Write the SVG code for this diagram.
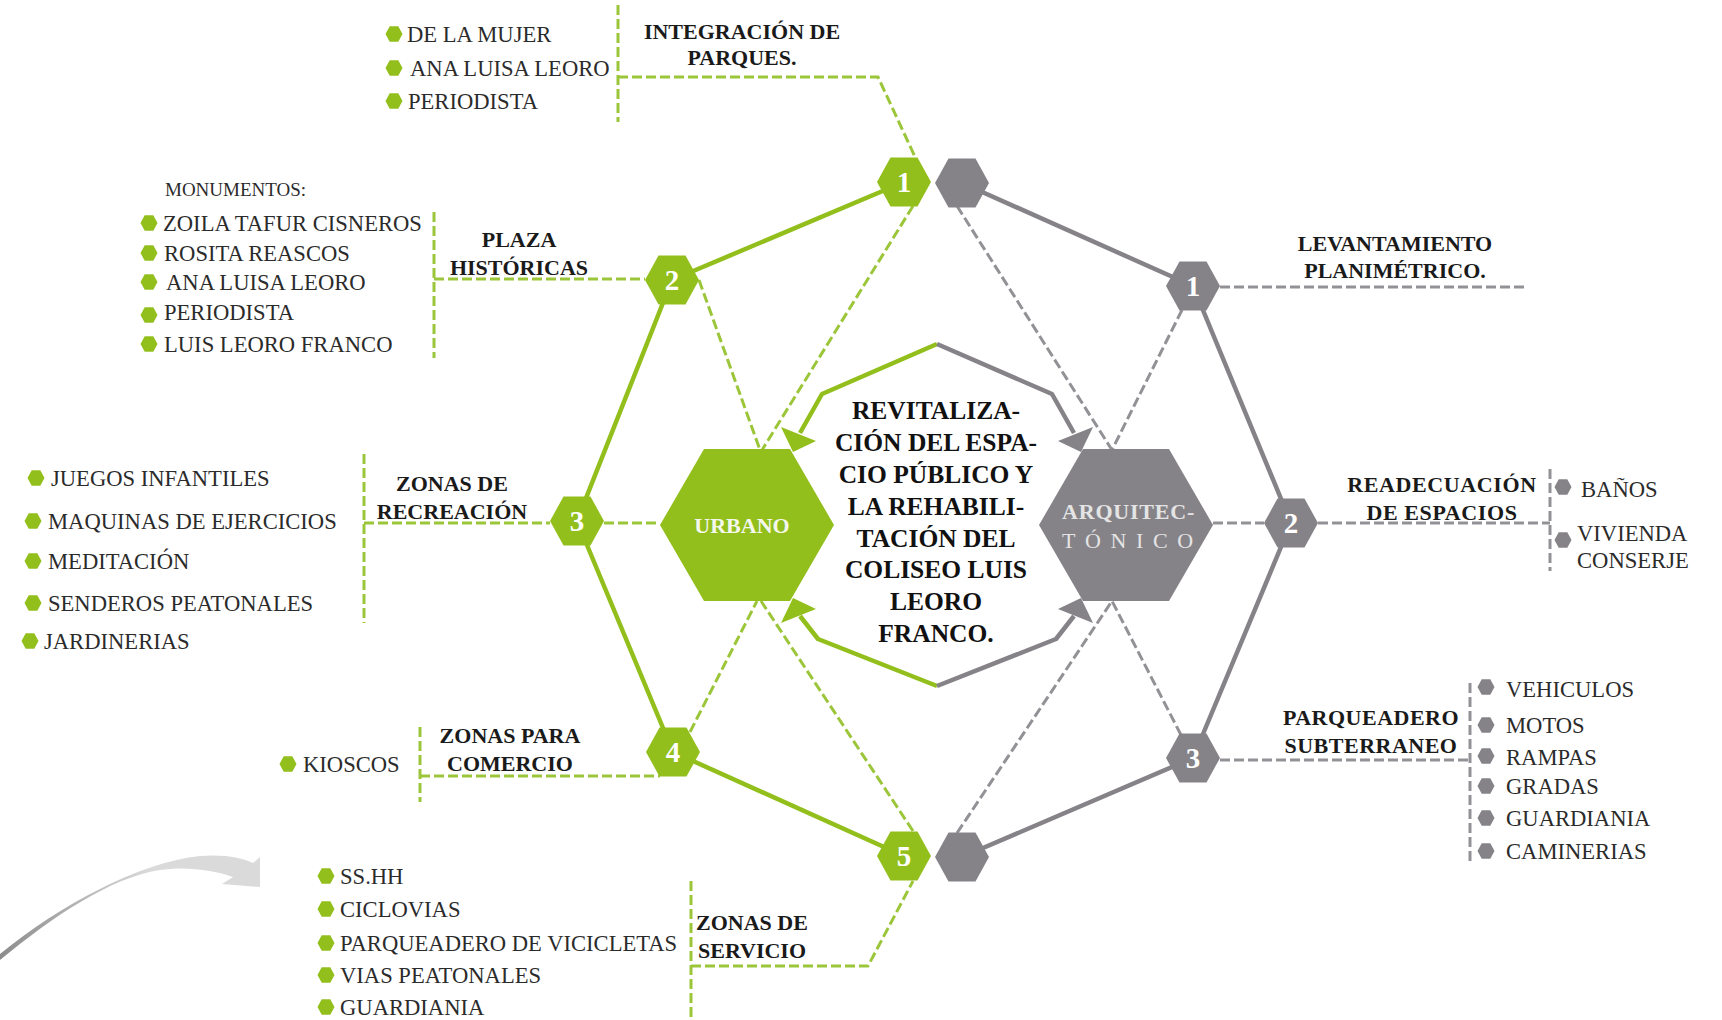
<svg xmlns="http://www.w3.org/2000/svg" width="1722" height="1020" viewBox="0 0 1722 1020">
<defs>
  <path id="sh" d="M-27,0 L-13.5,-24.5 L13.5,-24.5 L27,0 L13.5,24.5 L-13.5,24.5 Z"/>
  <path id="bh" d="M-87,0 L-43,-76 L43,-76 L87,0 L43,76 L-43,76 Z"/>
  <path id="bu" d="M-8.5,0 L-4.3,-7.8 L4.3,-7.8 L8.5,0 L4.3,7.8 L-4.3,7.8 Z"/>
  <linearGradient id="tail" gradientUnits="userSpaceOnUse" x1="0" y1="0" x2="150" y2="0">
    <stop offset="0" stop-color="#8c8c8c"/>
    <stop offset="1" stop-color="#dadada"/>
  </linearGradient>
</defs>
<style>
  .g{fill:#93bf1c}
  .k{fill:#858388}
  .sg{stroke:#93bf1c;stroke-width:4.5;fill:none;stroke-linejoin:round}
  .sk{stroke:#858388;stroke-width:4.5;fill:none;stroke-linejoin:round}
  .dg{stroke:#9cc63a;stroke-width:3;stroke-dasharray:10 4;fill:none}
  .dk{stroke:#939196;stroke-width:3;stroke-dasharray:10 4;fill:none}
  .num{font-family:"Liberation Serif","Times New Roman",serif;font-weight:bold;font-size:29px;fill:#ffffff;text-anchor:middle}
  .hd{font-family:"Liberation Serif","Times New Roman",serif;font-weight:bold;font-size:22px;fill:#1a1a1a;text-anchor:middle}
  .it{font-family:"Liberation Serif","Times New Roman",serif;font-size:22.6px;fill:#2b2b2b}
  .ct{font-family:"Liberation Serif","Times New Roman",serif;font-weight:bold;font-size:25.5px;fill:#111111;text-anchor:middle}
</style>

<!-- decorative curved arrow -->
<path d="M0,954 C60,905 140,862 200,856 C225,854 242,858 253,863 L260,857 L260,887 L222,884 L233,877 C215,870 185,866 160,870 C110,878 55,915 0,960 Z" fill="url(#tail)"/>

<g id="connectors">
  <!-- solid green ring -->
  <polyline class="sg" points="904,182 672,280 577,521 673,752 904,856"/>
  <!-- solid gray ring -->
  <polyline class="sk" points="962,183 1193,286 1291,523 1193,758 962,857"/>
  <!-- central frame -->
  <polyline class="sg" points="937,344 822,394 800,433"/>
  <polygon class="g" points="781,427 816,441 793,452"/>
  <polyline class="sg" points="937,686 818,639 800,616"/>
  <polygon class="g" points="781,623 816,609 793,598"/>
  <polyline class="sk" points="937,344 1052,394 1074,433"/>
  <polygon class="k" points="1093,427 1058,441 1081,452"/>
  <polyline class="sk" points="937,686 1056,639 1074,616"/>
  <polygon class="k" points="1093,623 1058,609 1081,598"/>
  <!-- green dashed to URBANO -->
  <line class="dg" x1="913" y1="206" x2="762" y2="450"/>
  <line class="dg" x1="699" y1="280" x2="760" y2="450"/>
  <line class="dg" x1="604" y1="523" x2="660" y2="523"/>
  <line class="dg" x1="690" y1="732" x2="757" y2="601"/>
  <line class="dg" x1="913" y1="831" x2="761" y2="601"/>
  <!-- gray dashed to ARQUITECTONICO -->
  <line class="dk" x1="957" y1="206" x2="1112" y2="450"/>
  <line class="dk" x1="1182" y1="310" x2="1112" y2="450"/>
  <line class="dk" x1="1213" y1="523" x2="1264" y2="523"/>
  <line class="dk" x1="1181" y1="735" x2="1112" y2="601"/>
  <line class="dk" x1="957" y1="833" x2="1112" y2="601"/>
  <!-- green label leaders -->
  <line class="dg" x1="618" y1="5" x2="618" y2="122"/>
  <polyline class="dg" points="618,77 878,77 916,159"/>
  <line class="dg" x1="434" y1="212" x2="434" y2="358"/>
  <line class="dg" x1="434" y1="279" x2="645" y2="279"/>
  <line class="dg" x1="364" y1="454" x2="364" y2="623"/>
  <line class="dg" x1="364" y1="523" x2="550" y2="523"/>
  <line class="dg" x1="420" y1="727" x2="420" y2="802"/>
  <line class="dg" x1="420" y1="776" x2="660" y2="776"/>
  <line class="dg" x1="691" y1="881" x2="691" y2="1020"/>
  <polyline class="dg" points="691,966 868,966 913,881"/>
  <!-- gray label leaders -->
  <line class="dk" x1="1220" y1="287" x2="1524" y2="287"/>
  <line class="dk" x1="1318" y1="523" x2="1550" y2="523"/>
  <line class="dk" x1="1550" y1="469" x2="1550" y2="571"/>
  <line class="dk" x1="1220" y1="760" x2="1470" y2="760"/>
  <line class="dk" x1="1470" y1="683" x2="1470" y2="862"/>
</g>

<!-- central text -->
<g id="center-text">
  <text class="ct" x="936" y="419">REVITALIZA-</text>
  <text class="ct" x="936" y="451">CIÓN DEL ESPA-</text>
  <text class="ct" x="936" y="483">CIO PÚBLICO Y</text>
  <text class="ct" x="936" y="515">LA REHABILI-</text>
  <text class="ct" x="936" y="547">TACIÓN DEL</text>
  <text class="ct" x="936" y="578">COLISEO LUIS</text>
  <text class="ct" x="936" y="610">LEORO</text>
  <text class="ct" x="936" y="642">FRANCO.</text>
</g>

<!-- big hexes -->
<g id="urbano">
  <use href="#bh" x="747" y="525" class="g"/>
  <text x="742" y="533" font-family="Liberation Serif, Times New Roman, serif" font-weight="bold" font-size="22" fill="#f4f7ec" text-anchor="middle">URBANO</text>
</g>
<g id="arquitectonico">
  <use href="#bh" x="1126" y="525" class="k"/>
  <text x="1062" y="519" font-family="Liberation Serif, Times New Roman, serif" font-weight="bold" font-size="22" fill="#e4e4e4" letter-spacing="0.8">ARQUITEC-</text>
  <text x="1062" y="548" font-family="Liberation Serif, Times New Roman, serif" font-size="22" fill="#e4e4e4" letter-spacing="9.6">TÓNICO</text>
</g>

<!-- small green hexes -->
<g id="g1"><use href="#sh" x="904" y="182" class="g"/><text class="num" x="904" y="192">1</text></g>
<g id="g2"><use href="#sh" x="672" y="280" class="g"/><text class="num" x="672" y="290">2</text></g>
<g id="g3"><use href="#sh" x="577" y="521" class="g"/><text class="num" x="577" y="531">3</text></g>
<g id="g4"><use href="#sh" x="673" y="752" class="g"/><text class="num" x="673" y="762">4</text></g>
<g id="g5"><use href="#sh" x="904" y="856" class="g"/><text class="num" x="904" y="866">5</text></g>

<!-- small gray hexes -->
<g id="k0"><use href="#sh" x="962" y="183" class="k"/></g>
<g id="k1"><use href="#sh" x="1193" y="286" class="k"/><text class="num" x="1193" y="296">1</text></g>
<g id="k2"><use href="#sh" x="1291" y="523" class="k"/><text class="num" x="1291" y="533">2</text></g>
<g id="k3"><use href="#sh" x="1193" y="758" class="k"/><text class="num" x="1193" y="768">3</text></g>
<g id="k6"><use href="#sh" x="962" y="857" class="k"/></g>

<!-- labels: integración de parques -->
<g id="lbl-parques">
  <text class="hd" x="742" y="39">INTEGRACIÓN DE</text>
  <text class="hd" x="742" y="65">PARQUES.</text>
  <use href="#bu" x="394" y="34" class="g"/><text class="it" x="407" y="42">DE LA MUJER</text>
  <use href="#bu" x="394" y="68" class="g"/><text class="it" x="410" y="76">ANA LUISA LEORO</text>
  <use href="#bu" x="394" y="101" class="g"/><text class="it" x="408" y="109">PERIODISTA</text>
</g>

<g id="lbl-plaza">
  <text class="hd" x="519" y="247">PLAZA</text>
  <text class="hd" x="519" y="275">HISTÓRICAS</text>
  <text x="165" y="196" font-family="Liberation Serif, Times New Roman, serif" font-size="19" fill="#2b2b2b">MONUMENTOS:</text>
  <use href="#bu" x="149" y="223" class="g"/><text class="it" x="163" y="231">ZOILA TAFUR CISNEROS</text>
  <use href="#bu" x="149" y="253" class="g"/><text class="it" x="164" y="261">ROSITA REASCOS</text>
  <use href="#bu" x="149" y="282" class="g"/><text class="it" x="166" y="290">ANA LUISA LEORO</text>
  <use href="#bu" x="149" y="315" class="g"/><text class="it" x="164" y="320">PERIODISTA</text>
  <use href="#bu" x="149" y="344" class="g"/><text class="it" x="164" y="352">LUIS LEORO FRANCO</text>
</g>

<g id="lbl-recreacion">
  <text class="hd" x="452" y="491">ZONAS DE</text>
  <text class="hd" x="452" y="519">RECREACIÓN</text>
  <use href="#bu" x="36" y="478" class="g"/><text class="it" x="51" y="486">JUEGOS INFANTILES</text>
  <use href="#bu" x="33" y="521" class="g"/><text class="it" x="48" y="529">MAQUINAS DE EJERCICIOS</text>
  <use href="#bu" x="33" y="561" class="g"/><text class="it" x="48" y="569">MEDITACIÓN</text>
  <use href="#bu" x="33" y="603" class="g"/><text class="it" x="48" y="611">SENDEROS PEATONALES</text>
  <use href="#bu" x="30" y="641" class="g"/><text class="it" x="44" y="649">JARDINERIAS</text>
</g>

<g id="lbl-comercio">
  <text class="hd" x="510" y="743">ZONAS PARA</text>
  <text class="hd" x="510" y="771">COMERCIO</text>
  <use href="#bu" x="288" y="764" class="g"/><text class="it" x="303" y="772">KIOSCOS</text>
</g>

<g id="lbl-servicio">
  <text class="hd" x="752" y="930">ZONAS DE</text>
  <text class="hd" x="752" y="958">SERVICIO</text>
  <use href="#bu" x="326" y="876" class="g"/><text class="it" x="340" y="884">SS.HH</text>
  <use href="#bu" x="326" y="909" class="g"/><text class="it" x="340" y="917">CICLOVIAS</text>
  <use href="#bu" x="326" y="943" class="g"/><text class="it" x="340" y="951">PARQUEADERO DE VICICLETAS</text>
  <use href="#bu" x="326" y="975" class="g"/><text class="it" x="340" y="983">VIAS PEATONALES</text>
  <use href="#bu" x="326" y="1007" class="g"/><text class="it" x="340" y="1015">GUARDIANIA</text>
</g>

<g id="lbl-levantamiento">
  <text class="hd" x="1395" y="251">LEVANTAMIENTO</text>
  <text class="hd" x="1395" y="278">PLANIMÉTRICO.</text>
</g>

<g id="lbl-readecuacion">
  <text class="hd" x="1442" y="492" letter-spacing="0.6">READECUACIÓN</text>
  <text class="hd" x="1442" y="520" letter-spacing="0.6">DE ESPACIOS</text>
  <use href="#bu" x="1563" y="487" class="k"/><text class="it" x="1581" y="497">BAÑOS</text>
  <use href="#bu" x="1563" y="540" class="k"/><text class="it" x="1577" y="541">VIVIENDA</text>
  <text class="it" x="1577" y="568">CONSERJE</text>
</g>

<g id="lbl-parqueadero">
  <text class="hd" x="1371" y="725" letter-spacing="0.5">PARQUEADERO</text>
  <text class="hd" x="1371" y="753" letter-spacing="0.5">SUBTERRANEO</text>
  <use href="#bu" x="1486" y="687" class="k"/><text class="it" x="1506" y="697">VEHICULOS</text>
  <use href="#bu" x="1486" y="725" class="k"/><text class="it" x="1506" y="733">MOTOS</text>
  <use href="#bu" x="1486" y="756" class="k"/><text class="it" x="1506" y="765">RAMPAS</text>
  <use href="#bu" x="1486" y="786" class="k"/><text class="it" x="1506" y="794">GRADAS</text>
  <use href="#bu" x="1486" y="818" class="k"/><text class="it" x="1506" y="826">GUARDIANIA</text>
  <use href="#bu" x="1486" y="851" class="k"/><text class="it" x="1506" y="859">CAMINERIAS</text>
</g>
</svg>
